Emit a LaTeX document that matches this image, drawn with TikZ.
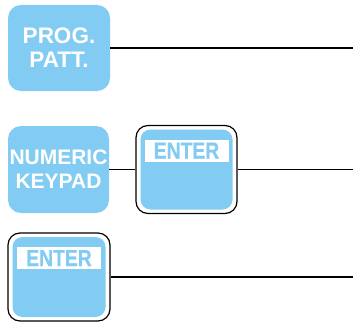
\documentclass[tikz,border=0pt]{standalone}
\usepackage{fontspec}
\setmainfont{Liberation Sans}
\newfontfamily\keyfont[FakeStretch=0.84,FakeBold=0.5]{Liberation Sans Bold}
\usetikzlibrary{positioning}
\definecolor{keyblue}{RGB}{130,203,243}
\tikzset{padbox/.style={fill=keyblue,rounded corners=13pt,minimum width=102pt,minimum height=86pt,inner sep=0pt,text=white,align=center,font=\fontsize{22.5}{24}\bfseries\selectfont},
  keyframe/.style={draw=black,line width=1.2pt,fill=white,rounded corners=12pt,minimum width=101pt,minimum height=88pt,inner sep=0pt},
  keyface/.style={fill=keyblue,rounded corners=10pt,minimum width=92pt,minimum height=80pt,inner sep=0pt},
  keylabel/.style={fill=white,text=keyblue,minimum width=84pt,minimum height=22pt,inner sep=0pt,font=\keyfont\fontsize{23}{23}\selectfont},
  wire/.style={line width=1.2pt}}
\begin{document}
\begin{tikzpicture}[x=1pt,y=1pt]
\useasboundingbox (0,0) rectangle (353,322);
\coordinate (edge) at (353,0);
% program pattern and keypad
\node[padbox] (prog) at (59,274) {PROG.\\PATT.};
\node[padbox,minimum width=101pt,minimum height=87pt,font=\fontsize{21}{24}\bfseries\selectfont] (keypad) at (58.5,152.5) {NUMERIC\\KEYPAD};
% enter keys
\node[keyframe] (enterA) at (186.5,152.5) {};
\node[keyface] (faceA) at (enterA.center) {};
\node[keylabel,below=14.5pt of enterA.north] (labelA) {ENTER};
\node[keyframe,minimum width=102pt] (enterB) at (59,45) {};
\node[keyface,minimum width=93pt] (faceB) at (enterB.center) {};
\node[keylabel,below=14.5pt of enterB.north] (labelB) {ENTER};
% wires
\draw[wire] (prog.east) -- (prog.east -| edge);
\draw[wire] (keypad.east) -- (enterA.west);
\draw[wire] (enterA.east) -- (enterA.east -| edge);
\draw[wire] (enterB.east) -- (enterB.east -| edge);
\end{tikzpicture}
\end{document}
